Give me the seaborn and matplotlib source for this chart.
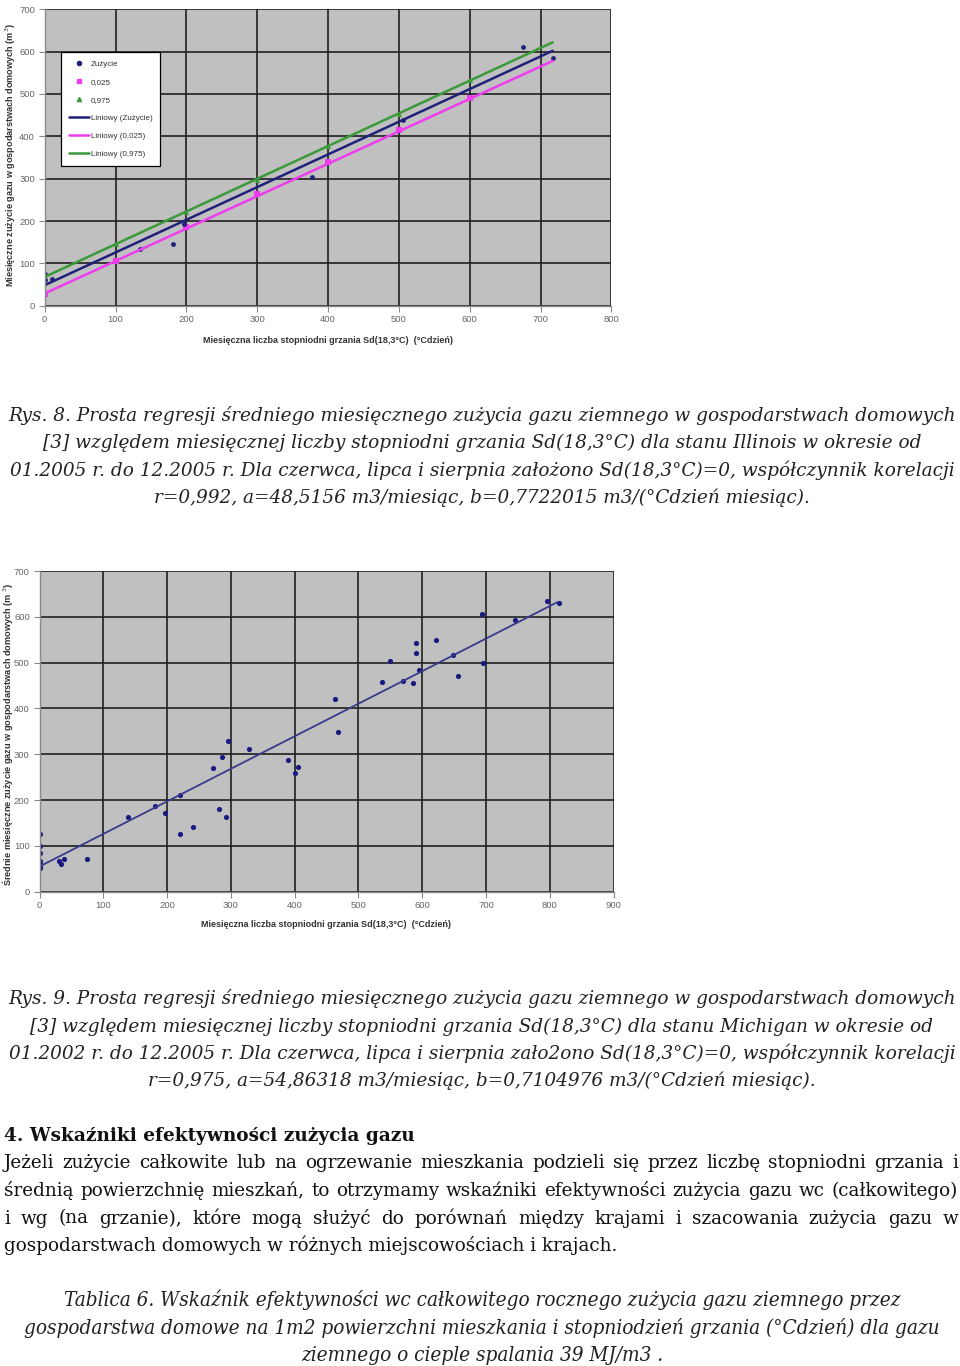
import matplotlib
matplotlib.use("Agg")
import matplotlib.pyplot as plt
import seaborn as sns
from matplotlib.lines import Line2D
from matplotlib import font_manager

# ---------------- data ----------------
# Rys. 8 (Illinois)
il_zuz_x = [0, 0, 11, 134, 181, 197, 377, 506, 675, 717]
il_zuz_y = [75, 61, 62, 133, 146, 193, 304, 439, 612, 584]
il_q025_x = [0, 100, 200, 300, 400, 500, 600]
il_q025_y = [28, 105, 185, 263, 340, 416, 491]
il_q975_x = [0, 100, 200, 300, 400, 500, 600]
il_q975_y = [70, 145, 222, 298, 377, 453, 534]
il_line_x = [0, 717]
il_line_zuz = [48.5, 602]
il_line_q025 = [29, 578]
il_line_q975 = [68, 622]

# Rys. 9 (Michigan)
mi_x = [0, 0, 0, 0, 0, 0, 0, 30, 33, 39, 74, 138, 181, 197, 220, 221, 240,
        272, 281, 286, 293, 295, 329, 390, 400, 406, 464, 468, 537, 549, 570,
        586, 590, 590, 595, 622, 649, 656, 694, 695, 745, 795, 814]
mi_y = [126, 100, 85, 68, 62, 57, 51, 67, 61, 71, 72, 162, 186, 172, 212, 126,
        141, 269, 180, 293, 162, 330, 312, 288, 260, 273, 420, 348, 457, 503,
        459, 456, 542, 520, 484, 550, 517, 471, 607, 499, 593, 635, 630]
mi_line_x = [0, 812]
mi_line_y = [55, 632]

legend_labels = ["Zużycie", "0,025", "0,975",
                 "Liniowy (Zużycie)", "Liniowy (0,025)", "Liniowy (0,975)"]
yticks = [0, 100, 200, 300, 400, 500, 600, 700]
xticks1 = [0, 100, 200, 300, 400, 500, 600, 700, 800]
xticks2 = [0, 100, 200, 300, 400, 500, 600, 700, 800, 900]
xlabel = "Miesięczna liczba stopniodni grzania Sd(18,3°C)  (°Cdzień)"
ylabel1 = "Miesięczne zużycie gazu w gospodarstwach domowych (m$^3$)"
ylabel2 = "Średnie miesięczne zużycie gazu w gospodarstwach domowych (m $^3$)"

cap8 = ["Rys. 8. Prosta regresji średniego miesięcznego zużycia gazu ziemnego w gospodarstwach domowych",
        "[3] względem miesięcznej liczby stopniodni grzania Sd(18,3°C) dla stanu Illinois w okresie od",
        "01.2005 r. do 12.2005 r. Dla czerwca, lipca i sierpnia założono Sd(18,3°C)=0, współczynnik korelacji",
        "r=0,992, a=48,5156 m3/miesiąc, b=0,7722015 m3/(°Cdzień miesiąc)."]
cap9 = ["Rys. 9. Prosta regresji średniego miesięcznego zużycia gazu ziemnego w gospodarstwach domowych",
        "[3] względem miesięcznej liczby stopniodni grzania Sd(18,3°C) dla stanu Michigan w okresie od",
        "01.2002 r. do 12.2005 r. Dla czerwca, lipca i sierpnia zało2ono Sd(18,3°C)=0, współczynnik korelacji",
        "r=0,975, a=54,86318 m3/miesiąc, b=0,7104976 m3/(°Cdzień miesiąc)."]
heading = "4. Wskaźniki efektywności zużycia gazu"
body = ["Jeżeli zużycie całkowite lub na ogrzewanie mieszkania podzieli się przez liczbę stopniodni grzania i",
        "średnią powierzchnię mieszkań, to otrzymamy wskaźniki efektywności zużycia gazu wc (całkowitego)",
        "i wg (na grzanie), które mogą służyć do porównań między krajami i szacowania zużycia gazu w",
        "gospodarstwach domowych w różnych miejscowościach i krajach."]
tab = ["Tablica 6. Wskaźnik efektywności wc całkowitego rocznego zużycia gazu ziemnego przez",
       "gospodarstwa domowe na 1m2 powierzchni mieszkania i stopniodzień grzania (°Cdzień) dla gazu",
       "ziemnego o cieple spalania 39 MJ/m3 ."]

# ---------------- style ----------------
sns.set_theme(style="white")
plt.rcParams["font.family"] = ["Liberation Sans", "DejaVu Sans"]

W, H = 960, 1366
fig = plt.figure(figsize=(W / 100, H / 100), dpi=100)
fig.patch.set_facecolor("white")

NAVY = "#20207a"
PINK = "#ee3cee"
GREEN = "#3a9a3a"
BG = "#c0c0c0"


def style_axes(ax, xt):
    ax.set_facecolor(BG)
    ax.set_xlim(xt[0], xt[-1])
    ax.set_ylim(0, 700)
    ax.set_xticks(xt)
    ax.set_yticks(yticks)
    ax.grid(True, color="#202020", linewidth=1.2)
    ax.set_axisbelow(True)
    for s in ["top", "right"]:
        ax.spines[s].set_visible(False)
    for s in ["left", "bottom"]:
        ax.spines[s].set_color("#8a8a8a")
        ax.spines[s].set_linewidth(1.0)
    ax.tick_params(axis="both", which="both", direction="out", length=4,
                   width=0.8, color="#8a8a8a", labelsize=6.8,
                   labelcolor="#666666", pad=3, left=True, bottom=True)


# ---- chart 1 ----
ax1 = fig.add_axes([44.7 / W, 1 - 305.7 / H, 566.8 / W, 296.4 / H])
sns.lineplot(x=il_line_x, y=il_line_q975, ax=ax1, color=GREEN, linewidth=1.8, legend=False)
sns.lineplot(x=il_line_x, y=il_line_zuz, ax=ax1, color=NAVY, linewidth=1.8, legend=False)
sns.lineplot(x=il_line_x, y=il_line_q025, ax=ax1, color=PINK, linewidth=1.8, legend=False)
sns.scatterplot(x=il_q975_x, y=il_q975_y, ax=ax1, color=GREEN, marker="^", s=14, linewidth=0, legend=False)
sns.scatterplot(x=il_q025_x, y=il_q025_y, ax=ax1, color=PINK, marker="s", s=14, linewidth=0, legend=False)
sns.scatterplot(x=il_zuz_x, y=il_zuz_y, ax=ax1, color=NAVY, marker="o", s=12, linewidth=0, legend=False)
style_axes(ax1, xticks1)
ax1.set_xlabel(xlabel, fontsize=6.5, fontweight="bold", color="#333333")
ax1.set_ylabel(ylabel1, fontsize=6.6, fontweight="bold", color="#333333")
ax1.xaxis.set_label_coords(0.5, -0.102)
ax1.yaxis.set_label_coords(-0.047, 0.508)

handles = [
    Line2D([], [], linestyle="none", marker="o", color=NAVY, markersize=3),
    Line2D([], [], linestyle="none", marker="s", color=PINK, markersize=3),
    Line2D([], [], linestyle="none", marker="^", color=GREEN, markersize=3),
    Line2D([], [], color=NAVY, linewidth=1.8),
    Line2D([], [], color=PINK, linewidth=1.8),
    Line2D([], [], color=GREEN, linewidth=1.8),
]
leg = ax1.legend(handles, legend_labels, loc="upper left",
                 bbox_to_anchor=(0.029, 0.856), fontsize=5.8,
                 labelspacing=1.3, handlelength=2.4, handletextpad=0.25,
                 borderpad=1.0, borderaxespad=0, frameon=True, fancybox=False,
                 framealpha=1.0, labelcolor="#333333")
leg.get_frame().set_edgecolor("black")
leg.get_frame().set_linewidth(0.9)

# ---- chart 2 ----
ax2 = fig.add_axes([39.5 / W, 1 - 891.7 / H, 574 / W, 320.7 / H])
sns.lineplot(x=mi_line_x, y=mi_line_y, ax=ax2, color="#3a3a8c", linewidth=1.3, legend=False)
sns.scatterplot(x=mi_x, y=mi_y, ax=ax2, color="#1a1a80", marker="o", s=14, linewidth=0, legend=False)
style_axes(ax2, xticks2)
ax2.set_xlabel(xlabel, fontsize=6.5, fontweight="bold", color="#333333")
ax2.set_ylabel(ylabel2, fontsize=6.6, fontweight="bold", color="#333333")
ax2.xaxis.set_label_coords(0.499, -0.088)
ax2.yaxis.set_label_coords(-0.043, 0.49)

# ---------------- text ----------------
renderer = fig.canvas.get_renderer()
SERIF = "DejaVu Serif"
names = {f.name for f in font_manager.fontManager.ttflist}
COND = "DejaVu Serif Condensed" if "DejaVu Serif Condensed" in names else SERIF


def width_of(s, **kw):
    t = fig.text(0, 0, s, **kw)
    w = t.get_window_extent(renderer=renderer).width
    t.remove()
    return w


def fit_size(s, target, **kw):
    w = width_of(s, fontsize=10, **kw)
    return 10 * target / w


def put(x, y, s, **kw):
    fig.text(x / W, 1 - y / H, s, va="baseline", **kw)


def justify(y, s, x0, x1, **kw):
    words = s.split(" ")
    ws = [width_of(w, **kw) for w in words]
    gap = (x1 - x0 - sum(ws)) / (len(words) - 1)
    x = x0
    for w, wd in zip(words, ws):
        put(x, y, w, ha="left", **kw)
        x += wd + gap


cap_kw = dict(family=SERIF, style="italic", color="#222222")
cs = fit_size(cap8[0], 948, **cap_kw)
for s, y in zip(cap8, [421, 448.5, 476, 503.5]):
    put(482, y, s, ha="center", fontsize=cs, **cap_kw)
for s, y in zip(cap9, [1004, 1031.5, 1059, 1086.5]):
    put(482, y, s, ha="center", fontsize=cs, **cap_kw)

head_kw = dict(family=SERIF, weight="bold", color="#111111")
hs = fit_size(heading, 411, **head_kw)
put(4, 1141, heading, ha="left", fontsize=hs, **head_kw)

body_kw = dict(family=SERIF, color="#111111")
bs = fit_size(body[1], 948, **body_kw)
for s, y in zip(body[:3], [1168.5, 1196, 1223.5]):
    justify(y, s, 4, 958, fontsize=bs, **body_kw)
put(4, 1251, body[3], ha="left", fontsize=bs, **body_kw)

tab_kw = dict(family=COND, style="italic", color="#222222")
if COND == SERIF:
    tab_kw["stretch"] = "condensed"
ts = fit_size(tab[0], 838, **tab_kw)
for s, y in zip(tab, [1306, 1333.5, 1361]):
    put(482, y, s, ha="center", fontsize=ts, **tab_kw)

fig.savefig("out.png", dpi=100, facecolor="white")
